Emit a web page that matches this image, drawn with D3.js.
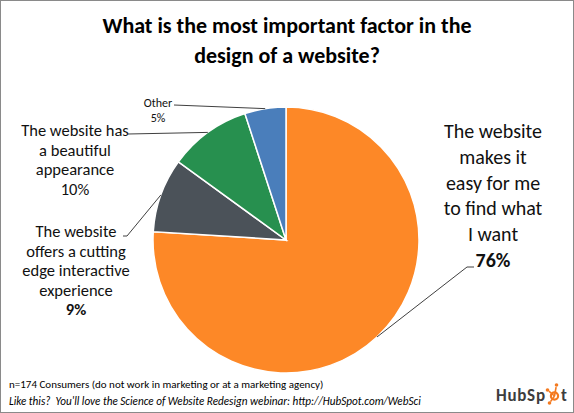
<!DOCTYPE html>
<html>
<head>
<meta charset="utf-8">
<script src="https://cdn.jsdelivr.net/npm/d3@7"></script>
<style>
  body { margin: 0; background: #fff; }
  svg text { font-family: Carlito, Lato, "Open Sans", sans-serif; white-space: pre; }
</style>
</head>
<body>
<div id="chart"></div>
<script>
// dados do grafico
const categorias = [
    "The website makes it easy for me to find what I want",
    "The website offers a cutting edge interactive experience",
    "The website has a beautiful appearance",
    "Other"
];
const valores = [76, 9, 10, 5];
const cores = ["#fd8827", "#4b5259", "#27904f", "#4a7ebb"];
const linhasRotulo = [
    ["The website", "makes it", "easy for me", "to find what", "I want"],
    ["The website", "offers a cutting", "edge interactive", "experience"],
    ["The website has", "a beautiful", "appearance"],
    ["Other"]
];
const titulo = ["What is the most important factor in the", "design of a website?"];
const rodape1 = "n=174 Consumers (do not work in marketing or at a marketing agency)";
const rodape2 = "Like this?  You'll love the Science of Website Redesign webinar: http://HubSpot.com/WebSci";

const width = 574, height = 413;
const cx = 286, cy = 240, raio = 133;

const svg = d3.select('#chart').append('svg')
    .attr('width', width)
    .attr('height', height);

// moldura
svg.append('rect')
    .attr('x', 0.5).attr('y', 0.5)
    .attr('width', width - 1).attr('height', height - 1)
    .attr('fill', '#fff')
    .attr('stroke', '#8a8a8a');

// titulo
svg.append('g').selectAll('text')
    .data(titulo)
    .enter().append('text')
    .attr('x', 287)
    .attr('y', (d, i) => 33 + i * 30)
    .attr('text-anchor', 'middle')
    .style('font-size', '22px')
    .style('font-weight', 'bold')
    .text(d => d);

const pie = d3.pie().sort(null).value(d => d);
const arcos = pie(valores);

const arc = d3.arc().innerRadius(0).outerRadius(raio);
const arcBorda = d3.arc().innerRadius(raio).outerRadius(raio);

const g = svg.append('g').attr('transform', `translate(${cx},${cy})`);

g.selectAll('path')
    .data(arcos)
    .enter().append('path')
    .attr('d', arc)
    .attr('fill', (d, i) => cores[i])
    .attr('stroke', '#fff')
    .attr('stroke-width', 1.5);

// layout dos rotulos (posicao do texto e do cotovelo da linha)
const layout = [
    { x: 493, y: 138, size: 20, lh: 25.8, cotovelo: [[474, 267], [467, 267]] },
    { x: 76, y: 237, size: 16.5, lh: 19.5, cotovelo: [[123, 236], [127, 236]] },
    { x: 75, y: 136, size: 16.5, lh: 19.5, cotovelo: [[128, 134]] },
    { x: 158, y: 107, size: 12, lh: 14.5, cotovelo: [[174, 105]] }
];

// linhas de chamada ate a borda da fatia
arcos.forEach((d, i) => {
    const c = arcBorda.centroid(d);
    const pts = layout[i].cotovelo.concat([[cx + c[0], cy + c[1]]]);
    svg.append('path')
        .attr('d', d3.line()(pts))
        .attr('fill', 'none')
        .attr('stroke', '#404040')
        .attr('stroke-width', 1);
});

arcos.forEach((d, i) => {
    const L = layout[i];
    const t = svg.append('text')
        .attr('text-anchor', 'middle')
        .style('font-size', L.size + 'px')
        .attr('fill', '#111');
    linhasRotulo[i].forEach((linha, j) => {
        t.append('tspan')
            .attr('x', L.x)
            .attr('y', L.y + j * L.lh)
            .text(linha);
    });
    // percentual (negrito nos dois rotulos de baixo)
    t.append('tspan')
        .attr('x', L.x)
        .attr('y', L.y + linhasRotulo[i].length * L.lh)
        .style('font-weight', i < 2 ? 'bold' : 'normal')
        .text(valores[i] + '%');
});

// rodape
svg.append('text')
    .attr('x', 9).attr('y', 388)
    .style('font-size', '11px')
    .text(rodape1);
svg.append('text')
    .attr('x', 9).attr('y', 405)
    .style('font-size', '11.2px')
    .style('font-style', 'italic')
    .text(rodape2);

// logo HubSpot
const logo = svg.append('g');
logo.append('text')
    .attr('x', 496).attr('y', 401)
    .attr('textLength', 49)
    .style('font-size', '17px')
    .style('font-weight', 'bold')
    .attr('fill', '#3d3d3d')
    .text('HubSp');
const sx = 554.5, sy = 396;
logo.append('circle')
    .attr('cx', sx).attr('cy', sy).attr('r', 3.6)
    .attr('fill', 'none').attr('stroke', '#f47a20').attr('stroke-width', 2.2);
[[2, -11], [-7, -6], [-5, 7]].forEach(p => {
    logo.append('line')
        .attr('x1', sx).attr('y1', sy)
        .attr('x2', sx + p[0] * 0.8).attr('y2', sy + p[1] * 0.8)
        .attr('stroke', '#f47a20').attr('stroke-width', 1.6);
    logo.append('circle')
        .attr('cx', sx + p[0]).attr('cy', sy + p[1]).attr('r', 1.8)
        .attr('fill', '#f47a20');
});
logo.append('text')
    .attr('x', 561).attr('y', 401)
    .style('font-size', '17px')
    .style('font-weight', 'bold')
    .attr('fill', '#3d3d3d')
    .text('t');
</script>
</body>
</html>
